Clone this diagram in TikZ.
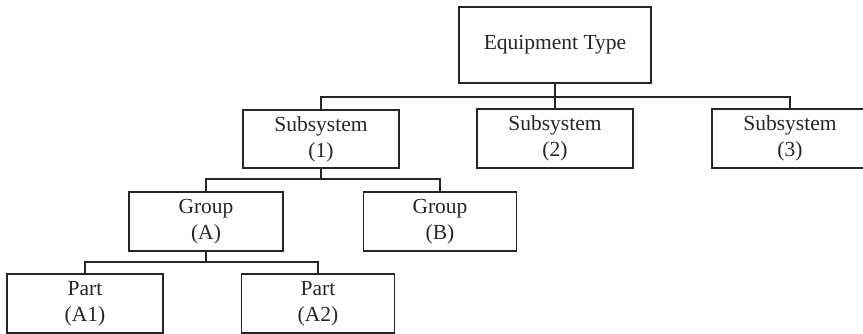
\documentclass[tikz,border=0pt]{standalone}
\usepackage{fontspec}
\setmainfont{Liberation Serif}
\begin{document}
\begin{tikzpicture}[x=1pt,y=-1pt,
  box/.style={draw=black!85, line width=1.1pt, rectangle, align=center,
    inner sep=0pt, font=\fontsize{21.5}{26}\selectfont, text=black!85},
  wire/.style={draw=black!85, line width=1.1pt}]
\useasboundingbox (0,0) rectangle (863,334);
% tree of boxes
\node[box, minimum width=192pt, minimum height=76pt] (eq) at (555,45) {Equipment Type};
\node[box, minimum width=156pt, minimum height=58pt] (s1) at (321,139) {Subsystem\\(1)};
\node[box, minimum width=156pt, minimum height=59pt] (s2) at (555,138.5) {Subsystem\\(2)};
\node[box, minimum width=156pt, minimum height=59pt] (s3) at (790,138.5) {Subsystem\\(3)};
\node[box, minimum width=154pt, minimum height=59pt] (ga) at (206,221.5) {Group\\(A)};
\node[box, minimum width=153pt, minimum height=59pt] (gb) at (440,221.5) {Group\\(B)};
\node[box, minimum width=156pt, minimum height=59pt] (pa1) at (85,303.5) {Part\\(A1)};
\node[box, minimum width=153pt, minimum height=59pt] (pa2) at (318,303.5) {Part\\(A2)};
% branch points
\coordinate (j1) at (555,97);
\coordinate (j2) at (321,179);
\coordinate (j3) at (206,262);
% connectors
\draw[wire] (eq.south) -- (j1);
\draw[wire] (s1.north) |- (j1) -| (s3.north);
\draw[wire] (j1) -- (s2.north);
\draw[wire] (s1.south) -- (j2);
\draw[wire] (ga.north) |- (j2) -| (gb.north);
\draw[wire] (ga.south) -- (j3);
\draw[wire] (pa1.north) |- (j3) -| (pa2.north);
\end{tikzpicture}
\end{document}
